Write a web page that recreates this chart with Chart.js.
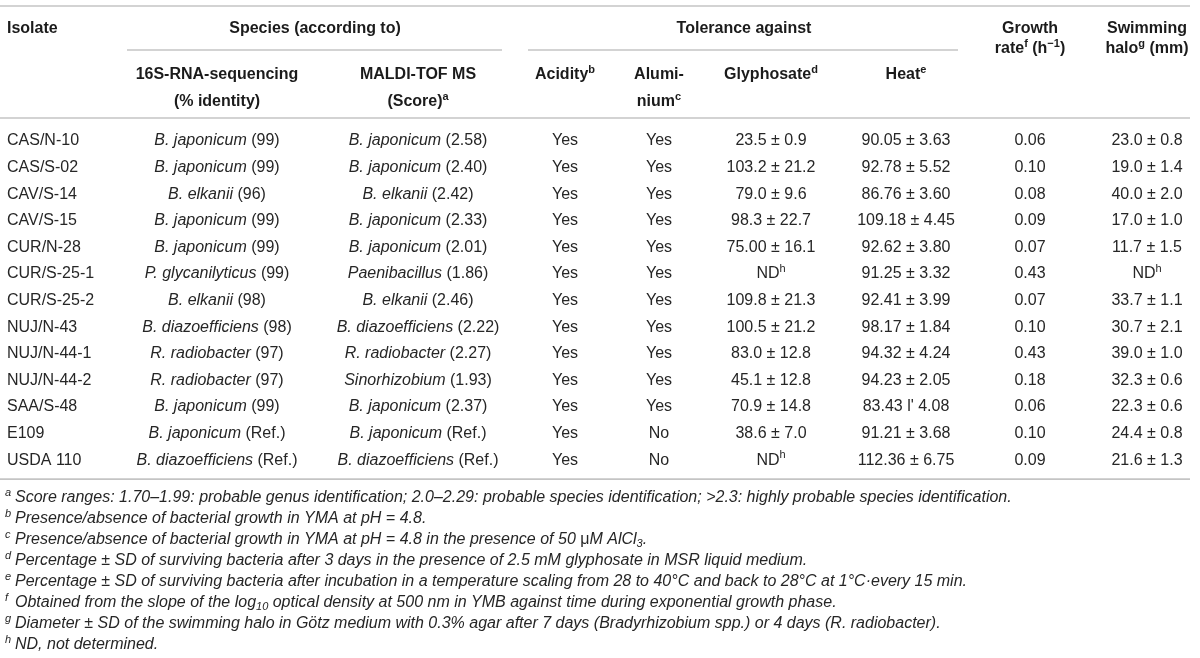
<!DOCTYPE html>
<html>
<head>
<meta charset="utf-8">
<script src="https://cdn.jsdelivr.net/npm/chart.js@4.4.1/dist/chart.umd.min.js"></script>
<style>
  html, body { margin: 0; padding: 0; background: #ffffff; }
  #wrap { width: 1200px; height: 658px; }
</style>
</head>
<body>
<div id="wrap"><canvas id="c" width="1200" height="658"></canvas></div>
<script>
// ---------------- DATA ----------------
const isolates = ["CAS/N-10","CAS/S-02","CAV/S-14","CAV/S-15","CUR/N-28","CUR/S-25-1","CUR/S-25-2","NUJ/N-43","NUJ/N-44-1","NUJ/N-44-2","SAA/S-48","E109","USDA 110"];
const species16S = ["B. japonicum","B. japonicum","B. elkanii","B. japonicum","B. japonicum","P. glycanilyticus","B. elkanii","B. diazoefficiens","R. radiobacter","R. radiobacter","B. japonicum","B. japonicum","B. diazoefficiens"];
const identity16S = ["99","99","96","99","99","99","98","98","97","97","99","Ref.","Ref."];
const speciesMaldi = ["B. japonicum","B. japonicum","B. elkanii","B. japonicum","B. japonicum","Paenibacillus","B. elkanii","B. diazoefficiens","R. radiobacter","Sinorhizobium","B. japonicum","B. japonicum","B. diazoefficiens"];
const scoreMaldi = ["2.58","2.40","2.42","2.33","2.01","1.86","2.46","2.22","2.27","1.93","2.37","Ref.","Ref."];
const acidity = ["Yes","Yes","Yes","Yes","Yes","Yes","Yes","Yes","Yes","Yes","Yes","Yes","Yes"];
const aluminium = ["Yes","Yes","Yes","Yes","Yes","Yes","Yes","Yes","Yes","Yes","Yes","No","No"];
const glyphosate = ["23.5 ± 0.9","103.2 ± 21.2","79.0 ± 9.6","98.3 ± 22.7","75.00 ± 16.1","ND^h","109.8 ± 21.3","100.5 ± 21.2","83.0 ± 12.8","45.1 ± 12.8","70.9 ± 14.8","38.6 ± 7.0","ND^h"];
const heat = ["90.05 ± 3.63","92.78 ± 5.52","86.76 ± 3.60","109.18 ± 4.45","92.62 ± 3.80","91.25 ± 3.32","92.41 ± 3.99","98.17 ± 1.84","94.32 ± 4.24","94.23 ± 2.05","83.43 l' 4.08","91.21 ± 3.68","112.36 ± 6.75"];
const growthRate = [0.06,0.10,0.08,0.09,0.07,0.43,0.07,0.10,0.43,0.18,0.06,0.10,0.09];
const swimmingHalo = ["23.0 ± 0.8","19.0 ± 1.4","40.0 ± 2.0","17.0 ± 1.0","11.7 ± 1.5","ND^h","33.7 ± 1.1","30.7 ± 2.1","39.0 ± 1.0","32.3 ± 0.6","22.3 ± 0.6","24.4 ± 0.8","21.6 ± 1.3"];

// header labels (markup: *italic*, ~upright~, ^x / ^{..} superscript, _{..} subscript)
const headerGroups = ["Isolate","Species (according to)","Tolerance against"];
const headerSub = [["16S-RNA-sequencing","(% identity)"],["MALDI-TOF MS","(Score)^a"],["Acidity^b"],["Alumi-","nium^c"],["Glyphosate^d"],["Heat^e"]];
const headerRight = [["Growth","rate^f (h^{−1})"],["Swimming","halo^g (mm)"]];

const footnoteMarks = ["a","b","c","d","e","f","g","h"];
const footnotes = [
  "Score ranges: 1.70–1.99: probable genus identification; 2.0–2.29: probable species identification; >2.3: highly probable species identification.",
  "Presence/absence of bacterial growth in YMA at pH = 4.8.",
  "Presence/absence of bacterial growth in YMA at pH = 4.8 in the presence of 50 ~μ~M AlCl_{3}.",
  "Percentage ~±~ SD of surviving bacteria after 3 days in the presence of 2.5 mM glyphosate in MSR liquid medium.",
  "Percentage ~±~ SD of surviving bacteria after incubation in a temperature scaling from 28 to 40°C and back to 28°C at 1°C·every 15 min.",
  "Obtained from the slope of the log_{10} optical density at 500 nm in YMB against time during exponential growth phase.",
  "Diameter ~±~ SD of the swimming halo in Götz medium with 0.3% agar after 7 days (Bradyrhizobium spp.) or 4 days (R. radiobacter).",
  "ND, not determined."
];

// ---------------- LAYOUT (positions / styles) ----------------
const FONT = "'Liberation Sans', Arial, Helvetica, sans-serif";
const SIZE = 16;
const TXT = "#262626";
const HDR = "#1b1b1b";
const RULE = "#c4c4c4";
const colX = { iso: 7, s16: 217, mal: 418, acid: 565, alu: 659, gly: 771, heat: 906, grow: 1030, swim: 1147 };
const rowBand = 26.6, firstRowY = 139.6;
const padTop = firstRowY - rowBand / 2;
const padBottom = 658 - (padTop + rowBand * isolates.length);

// ---------------- RICH TEXT ----------------
function parseRich(s, baseItalic) {
  const runs = []; let it = !!baseItalic; let up = false; let buf = "";
  const push = (t, mode, italic, upright) => { if (t) runs.push({ t, mode, italic: upright ? false : italic }); };
  for (let i = 0; i < s.length; i++) {
    const ch = s[i];
    if (ch === "*") { push(buf, "n", it, up); buf = ""; it = !it; continue; }
    if (ch === "~") { push(buf, "n", it, up); buf = ""; up = !up; continue; }
    if (ch === "^" || ch === "_") {
      push(buf, "n", it, up); buf = "";
      let t;
      if (s[i + 1] === "{") { const j = s.indexOf("}", i); t = s.slice(i + 2, j); i = j; }
      else { t = s[i + 1]; i++; }
      push(t, ch === "^" ? "sup" : "sub", it, up);
      continue;
    }
    buf += ch;
  }
  push(buf, "n", it, up);
  return runs;
}
function fontFor(r, bold, size) {
  const sz = r.mode === "n" ? size : Math.round(size * 0.7);
  return (r.italic ? "italic " : "") + (bold ? "bold " : "") + sz + "px " + FONT;
}
function richWidth(ctx, runs, bold, size) {
  let w = 0;
  for (const r of runs) { ctx.font = fontFor(r, bold, size); w += ctx.measureText(r.t).width; }
  return w;
}
function drawRich(ctx, s, x, y, opts) {
  const o = Object.assign({ align: "center", bold: false, italic: false, size: SIZE, color: TXT }, opts || {});
  const runs = parseRich(s, o.italic);
  const w = richWidth(ctx, runs, o.bold, o.size);
  let cx = o.align === "center" ? x - w / 2 : (o.align === "right" ? x - w : x);
  const base = y + o.size * 0.36;
  ctx.fillStyle = o.color; ctx.textBaseline = "alphabetic"; ctx.textAlign = "left";
  for (const r of runs) {
    ctx.font = fontFor(r, o.bold, o.size);
    let yy = base;
    if (r.mode === "sup") yy = base - o.size * 0.38;
    if (r.mode === "sub") yy = base + o.size * 0.22;
    ctx.fillText(r.t, cx, yy);
    cx += ctx.measureText(r.t).width;
  }
}
function rule(ctx, x1, x2, y) {
  ctx.save(); ctx.strokeStyle = RULE; ctx.lineWidth = 1.6;
  ctx.beginPath(); ctx.moveTo(x1, y); ctx.lineTo(x2, y); ctx.stroke(); ctx.restore();
}

// ---------------- COLUMNS -> DATASETS ----------------
const columns = [
  { key: "iso",  align: "left", text: isolates.map(v => v) },
  { key: "s16",  text: species16S.map((n, i) => "*" + n + "* (" + identity16S[i] + ")") },
  { key: "mal",  text: speciesMaldi.map((n, i) => "*" + n + "* (" + scoreMaldi[i] + ")") },
  { key: "acid", text: acidity },
  { key: "alu",  text: aluminium },
  { key: "gly",  text: glyphosate },
  { key: "heat", text: heat },
  { key: "grow", text: growthRate.map(v => v.toFixed(2)) },
  { key: "swim", text: swimmingHalo }
];
const datasets = columns.map(c => ({
  label: c.key,
  data: isolates.map(iso => ({ x: colX[c.key], y: iso })),
  cellText: c.text,
  cellAlign: c.align || "center",
  pointRadius: 0, pointHoverRadius: 0, showLine: false
}));

const tablePlugin = {
  id: "tablePlugin",
  beforeDraw(chart) {
    const ctx = chart.ctx;
    ctx.save(); ctx.fillStyle = "#ffffff"; ctx.fillRect(0, 0, chart.width, chart.height); ctx.restore();
  },
  afterDatasetsDraw(chart) {
    const ctx = chart.ctx;
    const xs = chart.scales.x, ys = chart.scales.y;
    const X = v => xs.getPixelForValue(v);
    ctx.save();
    // rules
    const left = X(0), right = X(1190);
    rule(ctx, left, right, 6);
    rule(ctx, X(127), X(502), 50);
    rule(ctx, X(528), X(958), 50);
    const headBottom = ys.getPixelForValue(0) - 21.6;
    rule(ctx, left, right, headBottom);
    const tableBottom = ys.bottom + 7;
    rule(ctx, left, right, tableBottom);

    // headers
    drawRich(ctx, headerGroups[0], X(colX.iso), 27, { align: "left", bold: true, color: HDR });
    drawRich(ctx, headerGroups[1], X(315), 27, { bold: true, color: HDR });
    drawRich(ctx, headerGroups[2], X(744), 27, { bold: true, color: HDR });
    const subKeys = ["s16", "mal", "acid", "alu", "gly", "heat"];
    headerSub.forEach((lines, k) => lines.forEach((t, j) =>
      drawRich(ctx, t, X(colX[subKeys[k]]), 73 + j * 27, { bold: true, color: HDR })));
    const rKeys = ["grow", "swim"];
    headerRight.forEach((lines, k) => lines.forEach((t, j) =>
      drawRich(ctx, t, X(colX[rKeys[k]]), 27 + j * 20, { bold: true, color: HDR })));

    // cells
    chart.data.datasets.forEach((ds, di) => {
      const meta = chart.getDatasetMeta(di);
      meta.data.forEach((pt, i) => {
        drawRich(ctx, ds.cellText[i], pt.x, pt.y, { align: ds.cellAlign });
      });
    });

    // footnotes
    footnotes.forEach((t, i) => {
      const y = tableBottom + 17 + i * 21;
      drawRich(ctx, "^" + footnoteMarks[i], 5, y, { align: "left", italic: true });
      const mw = (ctx.font = "italic 11px " + FONT, ctx.measureText(footnoteMarks[i]).width);
      drawRich(ctx, t, 5 + Math.max(mw, 8) + 2, y, { align: "left", italic: true });
    });
    ctx.restore();
  }
};

new Chart(document.getElementById("c"), {
  type: "scatter",
  data: { datasets },
  options: {
    responsive: false,
    animation: false,
    events: [],
    layout: { padding: { top: padTop, bottom: padBottom, left: 0, right: 0 } },
    scales: {
      x: { type: "linear", min: 0, max: 1200, display: false },
      y: { type: "category", labels: isolates, offset: true, display: false }
    },
    plugins: { legend: { display: false }, tooltip: { enabled: false } }
  },
  plugins: [tablePlugin]
});
</script>
</body>
</html>
